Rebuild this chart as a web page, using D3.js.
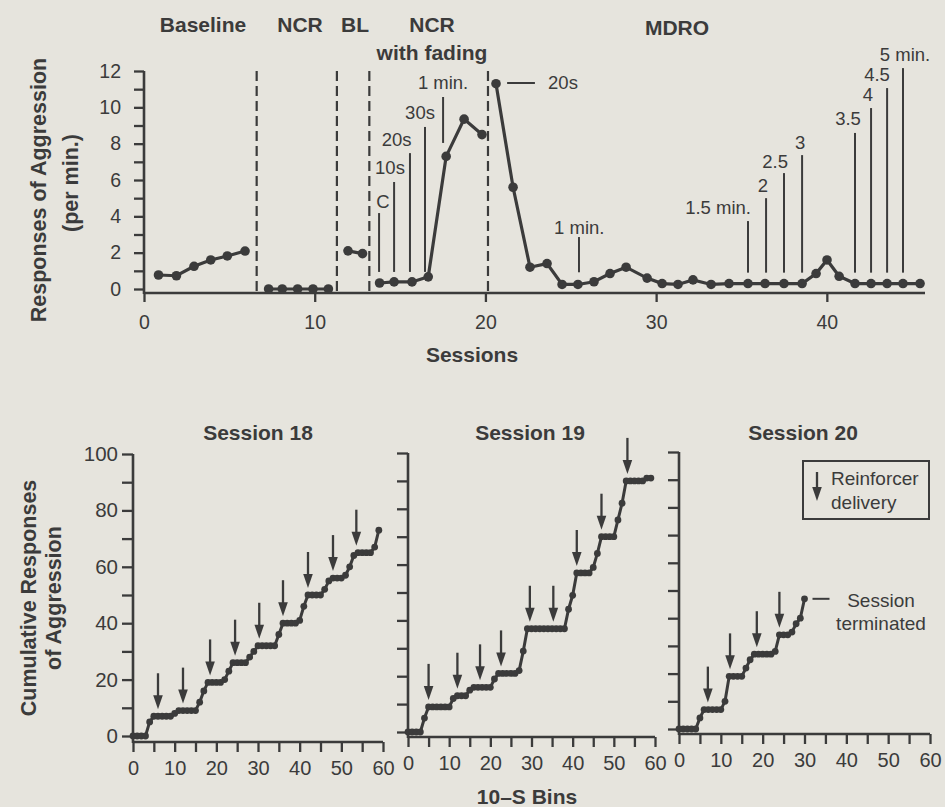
<!DOCTYPE html>
<html><head><meta charset="utf-8">
<script src="https://cdn.jsdelivr.net/npm/d3@7"></script>
<style>
html,body{margin:0;padding:0;background:#e6e4dd;}
svg{display:block;}
</style></head><body>
<svg id="chart" width="945" height="807"></svg>
<script>
// ---------------- DATA: top panel (responses per minute by session) ----------------
const phaseNames = ["Baseline", "NCR", "BL", "NCR", "MDRO"];
const phaseSubtitle = "with fading";
const phaseChangeSessions = [6.6, 11.3, 13.2, 20.15];

const baselineSessions = [0.85, 1.9, 2.93, 3.91, 4.88, 5.92];
const baselineRates    = [0.77, 0.73, 1.25, 1.6, 1.82, 2.09];
const ncrSessions      = [7.3, 8.1, 9.0, 9.9, 10.8];
const ncrRates         = [0, 0, 0, 0, 0];
const blSessions       = [11.95, 12.8];
const blRates          = [2.1, 1.95];
const fadeSessions     = [13.8, 14.65, 15.7, 16.65, 17.7, 18.75, 19.8];
const fadeRates        = [0.33, 0.39, 0.39, 0.67, 7.3, 9.35, 8.5];
const mdroSessions     = [20.62, 21.62, 22.61, 23.61, 24.49, 25.42, 26.36, 27.3, 28.24, 29.47, 30.35,
                          31.28, 32.16, 33.22, 34.27, 35.38, 36.38, 37.49, 38.55, 39.37, 40.01, 40.72,
                          41.65, 42.59, 43.53, 44.46, 45.46];
const mdroRates        = [11.3, 5.6, 1.2, 1.4, 0.25, 0.25, 0.4, 0.85, 1.2, 0.6, 0.3,
                          0.25, 0.5, 0.25, 0.3, 0.3, 0.3, 0.3, 0.3, 0.85, 1.6, 0.7,
                          0.3, 0.3, 0.3, 0.3, 0.3];

const sessionTicks = [0, 10, 20, 30, 40];
const rateTicks = [0, 1, 2, 3, 4, 5, 6, 7, 8, 9, 10, 11, 12];

// fading schedule annotations (NCR with fading)
const fadeMarkLabels   = ["C", "10s", "20s", "30s", "1 min."];
const fadeMarkSessions = [13.77, 14.65, 15.58, 16.46, 17.52];
const fadeMarkTop      = [4.18, 5.89, 7.48, 8.92, 10.57];
const fadeMarkBottom   = [0.94, 0.94, 0.94, 0.94, 8.04];
const fadeLabelSess    = [14.0, 14.41, 14.8, 16.17, 17.52];
const fadeLabelRate    = [4.79, 6.71, 8.25, 9.69, 11.39];

// MDRO schedule annotations
const mdroStartLabel   = "20s";
const mdroStartLine    = [21.27, 22.9];
const mdroStartRate    = 11.34;
const mdroStartTextSess = 23.67;
const mdroMarkLabels   = ["1 min.", "1.5 min.", "2", "2.5", "3", "3.5", "4", "4.5", "5 min."];
const mdroMarkSessions = [25.48, 35.38, 36.44, 37.49, 38.55, 41.65, 42.59, 43.53, 44.46];
const mdroMarkTop      = [2.86, 3.74, 5.0, 6.38, 7.37, 8.59, 9.96, 11.06, 12.16];
const mdroMarkBottom   = [0.92, 0.9, 0.9, 0.9, 0.9, 0.9, 0.9, 0.9, 0.9];
const mdroLabelSess    = [25.5, 33.63, 36.26, 36.97, 38.43, 41.24, 42.41, 42.94, 44.58];
const mdroLabelRate    = [3.41, 4.51, 5.72, 6.99, 8.09, 9.41, 10.68, 11.78, 12.88];

// ---------------- DATA: bottom panels (cumulative responses per 10-s bin) ----------------
const sessionTitles = ["Session 18", "Session 19", "Session 20"];
const session18Cum = [0,0,0,0,5,7,7,7,7,7,8,9,9,9,9,9,12,16,19,19,19,19,20,23,26,26,26,26,28,30,
                      32,32,32,32,32,36,40,40,40,40,41,46,50,50,50,50,52,55,56,56,56,57,60,64,65,65,65,65,67,73];
const session19Cum = [0,0,0,0,5,9,9,9,9,9,9,12,13,13,13,15,16,16,16,16,16,19,21,21,21,21,21,22,29,37,
                      37,37,37,37,37,37,37,37,37,44,49,57,57,57,57,59,64,70,70,70,70,76,82,90,90,90,90,90,91,91];
const session20Cum = [0,0,0,0,0,4,7,7,7,7,7,10,19,19,19,19,22,25,27,27,27,27,27,28,34,34,34,35,38,40,47];
const session18Arrows = [6, 12, 18.5, 24.5, 30.3, 36, 42, 48, 53.6];
const session19Arrows = [5, 12, 17.5, 22.6, 29.6, 35.3, 41, 47, 53.3];
const session20Arrows = [6.9, 12.2, 18.6, 24];
const binTicks = [0, 5, 10, 15, 20, 25, 30, 35, 40, 45, 50, 55, 60];
const cumTicks = [0, 10, 20, 30, 40, 50, 60, 70, 80, 90, 100];
const legendLines = ["Reinforcer", "delivery"];
const terminatedLines = ["Session", "terminated"];

// ---------------- DRAWING ----------------
const ink = "#3b3b3b";
const font = "'Liberation Sans', Arial, Helvetica, sans-serif";
const svg = d3.select("#chart");
svg.append("rect").attr("width", 945).attr("height", 807).attr("fill", "#e6e4dd");

function styleAxis(g, size) {
  g.attr("font-family", font).attr("font-size", size);
  g.selectAll("line").attr("stroke", ink).attr("stroke-width", 2.3);
  g.selectAll("path.domain").remove();
  g.selectAll("text").attr("fill", ink);
}
function label(txt, x, yy, size, weight, anchor) {
  return svg.append("text").text(txt).attr("x", x).attr("y", yy)
    .attr("dy", "0.35em").attr("font-family", font).attr("font-size", size)
    .attr("font-weight", weight || "normal").attr("text-anchor", anchor || "middle").attr("fill", ink);
}

// ----- top panel -----
const xTop = d3.scaleLinear().domain([0, 45.75]).range([144, 925]);
const yTop = d3.scaleLinear().domain([0, 12]).range([289, 71]);
const topAxisY = 293;

const gxTop = svg.append("g").attr("transform", `translate(0,${topAxisY})`)
  .call(d3.axisBottom(xTop).tickValues(sessionTicks).tickSize(9).tickSizeOuter(0).tickPadding(13));
styleAxis(gxTop, 19.5);
svg.append("line").attr("x1", xTop(0)).attr("x2", xTop(45.75)).attr("y1", topAxisY).attr("y2", topAxisY)
  .attr("stroke", ink).attr("stroke-width", 2.6);

const gyTop = svg.append("g").attr("transform", `translate(${xTop(0)},0)`)
  .call(d3.axisLeft(yTop).tickValues(rateTicks).tickSize(10).tickSizeOuter(0).tickPadding(13)
    .tickFormat(d => d % 2 === 0 ? d : ""));
styleAxis(gyTop, 19.5);
svg.append("line").attr("x1", xTop(0)).attr("x2", xTop(0)).attr("y1", yTop(12)).attr("y2", topAxisY + 1)
  .attr("stroke", ink).attr("stroke-width", 2.6);

// phase change lines
svg.selectAll("line.phase").data(phaseChangeSessions).enter().append("line")
  .attr("x1", d => xTop(d)).attr("x2", d => xTop(d))
  .attr("y1", yTop(12)).attr("y2", topAxisY)
  .attr("stroke", ink).attr("stroke-width", 2.2).attr("stroke-dasharray", "10,5");

// data series per phase
const phaseData = [
  [baselineSessions, baselineRates],
  [ncrSessions, ncrRates],
  [blSessions, blRates],
  [fadeSessions, fadeRates],
  [mdroSessions, mdroRates]
].map(([s, r]) => s.map((v, i) => [v, r[i]]));

const lineTop = d3.line().x(d => xTop(d[0])).y(d => yTop(d[1]));
phaseData.forEach(pts => {
  svg.append("path").attr("d", lineTop(pts)).attr("fill", "none")
    .attr("stroke", ink).attr("stroke-width", 3.2);
  svg.append("g").selectAll("circle").data(pts).enter().append("circle")
    .attr("cx", d => xTop(d[0])).attr("cy", d => yTop(d[1])).attr("r", 4.8).attr("fill", ink);
});

// phase titles
label(phaseNames[0], 203, 25, 21, "bold");
label(phaseNames[1], 300, 25, 21, "bold");
label(phaseNames[2], 355, 25, 21, "bold");
label(phaseNames[3], 432, 25, 21, "bold");
label(phaseSubtitle, 432, 53, 21, "bold");
label(phaseNames[4], 677, 28, 21, "bold");

// fading annotations
fadeMarkLabels.forEach((t, i) => {
  svg.append("line").attr("x1", xTop(fadeMarkSessions[i])).attr("x2", xTop(fadeMarkSessions[i]))
    .attr("y1", yTop(fadeMarkTop[i])).attr("y2", yTop(fadeMarkBottom[i]))
    .attr("stroke", ink).attr("stroke-width", 2);
  label(t, xTop(fadeLabelSess[i]), yTop(fadeLabelRate[i]), 18.5);
});
// MDRO annotations
svg.append("line").attr("x1", xTop(mdroStartLine[0])).attr("x2", xTop(mdroStartLine[1]))
  .attr("y1", yTop(mdroStartRate)).attr("y2", yTop(mdroStartRate)).attr("stroke", ink).attr("stroke-width", 2);
label(mdroStartLabel, xTop(mdroStartTextSess), yTop(mdroStartRate), 18.5, "normal", "start");
mdroMarkLabels.forEach((t, i) => {
  svg.append("line").attr("x1", xTop(mdroMarkSessions[i])).attr("x2", xTop(mdroMarkSessions[i]))
    .attr("y1", yTop(mdroMarkTop[i])).attr("y2", yTop(mdroMarkBottom[i]))
    .attr("stroke", ink).attr("stroke-width", 2);
  label(t, xTop(mdroLabelSess[i]), yTop(mdroLabelRate[i]), 18.5);
});

// axis titles top
svg.append("g").attr("transform", "translate(38,190) rotate(-90)")
  .append("text").text("Responses of Aggression").attr("text-anchor", "middle").attr("dy", "0.35em")
  .attr("font-family", font).attr("font-size", 21.5).attr("font-weight", "bold").attr("fill", ink);
svg.append("g").attr("transform", "translate(70,183) rotate(-90)")
  .append("text").text("(per min.)").attr("text-anchor", "middle").attr("dy", "0.35em")
  .attr("font-family", font).attr("font-size", 21.5).attr("font-weight", "bold").attr("fill", ink);
label("Sessions", 472, 355, 21, "bold");

// ----- bottom panels -----
const panels = [
  {cum: session18Cum, arrows: session18Arrows, x0: 133, x1: 383, y0: 736, y100: 454, axisY: 742, title: 258, yLabels: true},
  {cum: session19Cum, arrows: session19Arrows, x0: 408, x1: 655, y0: 732, y100: 453, axisY: 737, title: 530, yLabels: false},
  {cum: session20Cum, arrows: session20Arrows, x0: 679, x1: 930, y0: 729, y100: 452, axisY: 734, title: 803, yLabels: false}
];

function arrow(g, cx, tipY, len) {
  g.append("line").attr("x1", cx).attr("x2", cx).attr("y1", tipY - len).attr("y2", tipY - 10)
    .attr("stroke", ink).attr("stroke-width", 2.3);
  g.append("path").attr("d", `M${cx - 4.8},${tipY - 14} L${cx + 4.8},${tipY - 14} L${cx},${tipY} Z`)
    .attr("fill", ink);
}

panels.forEach((p, pi) => {
  const x = d3.scaleLinear().domain([0, 60]).range([p.x0, p.x1]);
  const y = d3.scaleLinear().domain([0, 100]).range([p.y0, p.y100]);
  const g = svg.append("g");

  const gx = g.append("g").attr("transform", `translate(0,${p.axisY})`)
    .call(d3.axisBottom(x).tickValues(binTicks).tickSize(10).tickSizeOuter(0).tickPadding(9)
      .tickFormat(d => d % 10 === 0 ? d : ""));
  styleAxis(gx, 20);
  g.append("line").attr("x1", x(0)).attr("x2", x(60)).attr("y1", p.axisY).attr("y2", p.axisY)
    .attr("stroke", ink).attr("stroke-width", 2.6);

  const gy = g.append("g").attr("transform", `translate(${x(0)},0)`)
    .call(d3.axisLeft(y).tickValues(cumTicks).tickSize(11).tickSizeOuter(0).tickPadding(4)
      .tickFormat(d => p.yLabels && d % 20 === 0 ? d : ""));
  styleAxis(gy, 20.5);
  g.append("line").attr("x1", x(0)).attr("x2", x(0)).attr("y1", y(100)).attr("y2", p.axisY + 1)
    .attr("stroke", ink).attr("stroke-width", 2.6);

  const pts = p.cum.map((v, i) => [i, v]);
  g.append("path").attr("d", d3.line().x(d => x(d[0])).y(d => y(d[1]))(pts))
    .attr("fill", "none").attr("stroke", ink).attr("stroke-width", 3);
  g.selectAll("circle").data(pts).enter().append("circle")
    .attr("cx", d => x(d[0])).attr("cy", d => y(d[1])).attr("r", 3.4).attr("fill", ink);

  p.arrows.forEach(b => {
    const v = p.cum[Math.min(p.cum.length - 1, Math.round(b))];
    arrow(g, x(b), y(v) - 7, 36);
  });

  label(sessionTitles[pi], p.title, 433, 21, "bold");
});

// bottom axis titles
svg.append("g").attr("transform", "translate(28,598) rotate(-90)")
  .append("text").text("Cumulative Responses").attr("text-anchor", "middle").attr("dy", "0.35em")
  .attr("font-family", font).attr("font-size", 21.5).attr("font-weight", "bold").attr("fill", ink);
svg.append("g").attr("transform", "translate(53,598) rotate(-90)")
  .append("text").text("of Aggression").attr("text-anchor", "middle").attr("dy", "0.35em")
  .attr("font-family", font).attr("font-size", 21.5).attr("font-weight", "bold").attr("fill", ink);
label("10\u2013S Bins", 527, 797, 21, "bold");

// legend
svg.append("rect").attr("x", 803).attr("y", 461).attr("width", 126).attr("height", 58)
  .attr("fill", "none").attr("stroke", ink).attr("stroke-width", 2);
arrow(svg, 817, 501, 29);
label(legendLines[0], 831, 478, 19, "normal", "start");
label(legendLines[1], 831, 502, 19, "normal", "start");

// session terminated note (session 20)
const p3x = d3.scaleLinear().domain([0, 60]).range([panels[2].x0, panels[2].x1]);
const p3y = d3.scaleLinear().domain([0, 100]).range([panels[2].y0, panels[2].y100]);
const lastBin = session20Cum.length - 1;
svg.append("line").attr("x1", p3x(lastBin) + 8).attr("x2", p3x(lastBin) + 25)
  .attr("y1", p3y(session20Cum[lastBin])).attr("y2", p3y(session20Cum[lastBin]))
  .attr("stroke", ink).attr("stroke-width", 2);
label(terminatedLines[0], 881, 600, 19);
label(terminatedLines[1], 881, 623, 19);
</script>
</body></html>
